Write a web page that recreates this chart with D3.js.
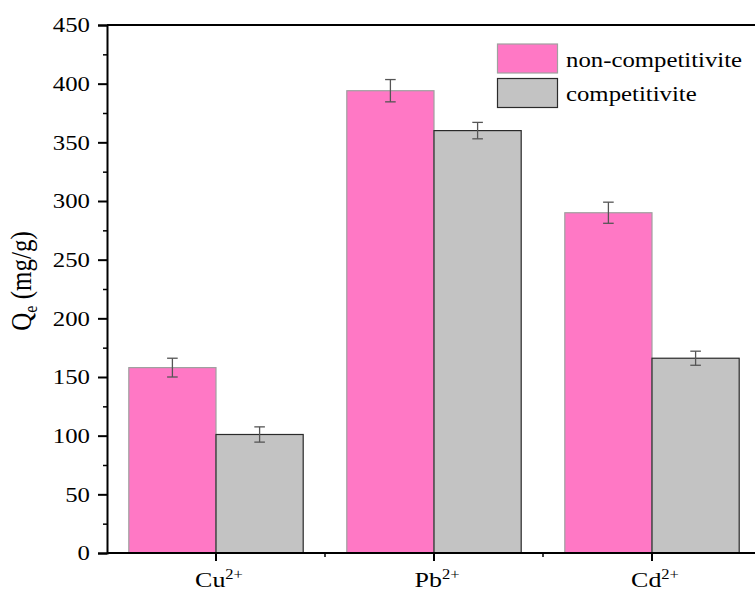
<!DOCTYPE html>
<html>
<head>
<meta charset="utf-8">
<script src="https://cdn.jsdelivr.net/npm/d3@7"></script>
<style>
  html, body { margin: 0; padding: 0; background: #fff; }
  svg { display: block; }
</style>
</head>
<body>
<svg id="chart" width="755" height="591"></svg>
<script>
const categories = ["Cu", "Pb", "Cd"];
const seriesNames = ["non-competitivite", "competitivite"];
const nonCompetitive = [158, 394, 290];
const nonCompetitiveErr = [8, 9.5, 9];
const competitive = [101, 360, 166];
const competitiveErr = [6.5, 7, 6];
const yTicks = [0, 50, 100, 150, 200, 250, 300, 350, 400, 450];
const yMinorTicks = [25, 75, 125, 175, 225, 275, 325, 375, 425];

const colors = ["#FF78C5", "#C3C3C3"];
const strokes = ["#a0a0a0", "#2a2a2a"];
const FONT = "'Liberation Serif', 'Times New Roman', serif";
const SX = 1.18; // horizontal stretch of the lettering in the reference

const svg = d3.select("#chart").attr("font-family", FONT);
const mLeft = 107, mRight = 761, mTop = 25, mBottom = 553;

const x = d3.scaleBand().domain(categories).range([mLeft, mRight]).paddingInner(0).paddingOuter(0);
const inner = d3.scaleBand().domain(seriesNames).range([0, x.bandwidth()]).paddingInner(0).paddingOuter(0.25);
const y = d3.scaleLinear().domain([0, 450]).range([mBottom, mTop]);

const series = [
  { name: seriesNames[0], values: nonCompetitive, errs: nonCompetitiveErr },
  { name: seriesNames[1], values: competitive, errs: competitiveErr }
];

// bars
series.forEach((s, si) => {
  svg.append("g").selectAll("rect")
    .data(categories)
    .join("rect")
    .attr("x", (c) => x(c) + inner(s.name))
    .attr("y", (c, i) => y(s.values[i]))
    .attr("width", inner.bandwidth())
    .attr("height", (c, i) => y(0) - y(s.values[i]))
    .attr("fill", colors[si])
    .attr("stroke", strokes[si])
    .attr("stroke-width", 1.2);
});

// error bars
series.forEach((s, si) => {
  const g = svg.append("g").attr("stroke", "#555").attr("stroke-width", 1.3);
  categories.forEach((c, i) => {
    const cx = x(c) + inner(s.name) + inner.bandwidth() / 2;
    const hi = y(s.values[i] + s.errs[i]);
    const lo = y(s.values[i] - s.errs[i]);
    g.append("line").attr("x1", cx).attr("x2", cx).attr("y1", hi).attr("y2", lo);
    g.append("line").attr("x1", cx - 5.3).attr("x2", cx + 5.3).attr("y1", hi).attr("y2", hi);
    g.append("line").attr("x1", cx - 5.3).attr("x2", cx + 5.3).attr("y1", lo).attr("y2", lo);
  });
});

// top border
svg.append("line").attr("x1", mLeft).attr("x2", 755).attr("y1", mTop).attr("y2", mTop)
  .attr("stroke", "#000").attr("stroke-width", 2);

// y axis
const yAxis = svg.append("g").attr("transform", `translate(${mLeft},0)`)
  .call(d3.axisLeft(y).tickValues(yTicks).tickSize(9).tickPadding(8).tickFormat(d3.format("d")));
yAxis.attr("font-family", FONT).attr("font-size", 21);
yAxis.select(".domain").attr("stroke-width", 2);
yAxis.selectAll(".tick line").attr("stroke-width", 2);
yAxis.selectAll(".tick text")
  .attr("fill", "#000")
  .attr("x", 0)
  .attr("transform", `translate(-17,0) scale(${SX},1)`);
svg.append("g").attr("transform", `translate(${mLeft},0)`)
  .call(d3.axisLeft(y).tickValues(yMinorTicks).tickSize(4).tickFormat(""))
  .call(g => g.select(".domain").remove())
  .selectAll(".tick line").attr("stroke-width", 1.5);

// x axis
const xAxis = svg.append("g").attr("transform", `translate(0,${mBottom})`)
  .call(d3.axisBottom(x).tickSize(8).tickFormat(""));
xAxis.select(".domain").attr("stroke-width", 2).attr("d", `M${mLeft},0H755`);
xAxis.selectAll(".tick line").attr("stroke-width", 2);
// minor ticks between categories
svg.append("g").selectAll("line")
  .data(categories.slice(0, -1))
  .join("line")
  .attr("x1", c => x(c) + x.bandwidth()).attr("x2", c => x(c) + x.bandwidth())
  .attr("y1", mBottom).attr("y2", mBottom + 4)
  .attr("stroke", "#000").attr("stroke-width", 1.5);

// x labels with superscript
categories.forEach((c) => {
  const t = svg.append("text")
    .attr("transform", `translate(${x(c) + x.bandwidth() / 2 + 3},587) scale(${SX},1)`)
    .attr("text-anchor", "middle")
    .attr("font-size", 22);
  t.append("tspan").text(c);
  t.append("tspan").attr("font-size", 14).attr("dy", -8).text("2+");
});

// y label
const yl = svg.append("text")
  .attr("transform", `translate(31,281) scale(${SX},1) rotate(-90)`)
  .attr("text-anchor", "middle")
  .attr("font-size", 25);
yl.append("tspan").text("Q");
yl.append("tspan").attr("font-size", 16).attr("dy", 5).text("e");
yl.append("tspan").attr("dy", -5).text(" (mg/g)");

// legend
const legend = svg.append("g");
series.forEach((s, si) => {
  const ly = 44 + si * 34.5;
  legend.append("rect")
    .attr("x", 497.5).attr("y", ly).attr("width", 60).attr("height", 29)
    .attr("fill", colors[si]).attr("stroke", strokes[si]).attr("stroke-width", 1.2);
  legend.append("text")
    .attr("transform", `translate(566,${ly + 22.5}) scale(${SX},1)`)
    .attr("font-size", 21)
    .text(s.name);
});
</script>
</body>
</html>
